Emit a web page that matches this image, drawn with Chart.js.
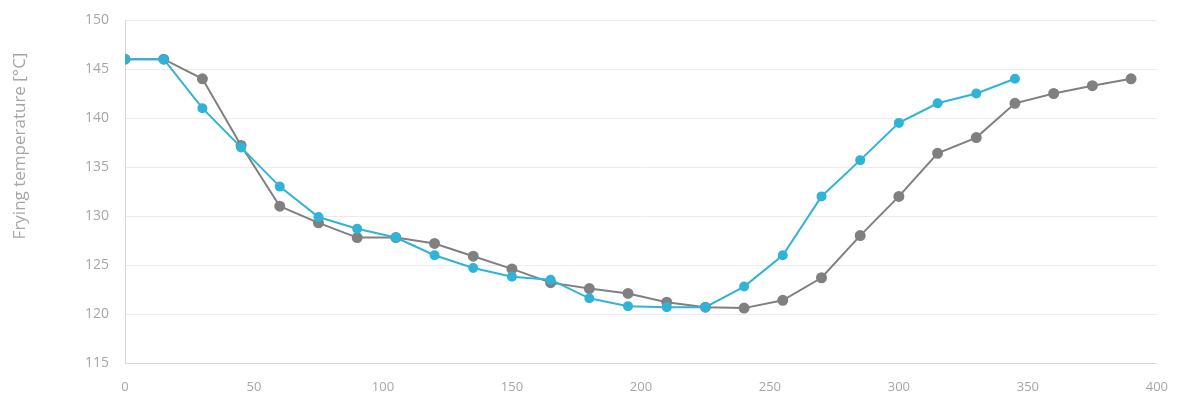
<!DOCTYPE html>
<html>
<head>
<meta charset="utf-8">
<script src="https://cdn.jsdelivr.net/npm/chart.js@4"></script>
<style>
  html, body { margin: 0; padding: 0; background: #fff; }
  #wrap { width: 1184px; height: 400px; }
</style>
</head>
<body>
<div id="wrap"><canvas id="fryChart" width="1184" height="400"></canvas></div>
<script>
// frying time (x) and temperature readings
const timesBlue = [0, 15, 30, 45, 60, 75, 90, 105, 120, 135, 150, 165, 180, 195, 210, 225, 240, 255, 270, 285, 300, 315, 330, 345];
const tempBlue = [146, 146, 141, 137, 133, 129.9, 128.7, 127.8, 126, 124.7, 123.8, 123.5, 121.6, 120.8, 120.7, 120.7, 122.8, 126, 132, 135.7, 139.5, 141.5, 142.5, 144];

const timesGrey = [0, 15, 30, 45, 60, 75, 90, 105, 120, 135, 150, 165, 180, 195, 210, 225, 240, 255, 270, 285, 300, 315, 330, 345, 360, 375, 390];
const tempGrey = [146, 146, 144, 137.2, 131, 129.3, 127.8, 127.8, 127.2, 125.9, 124.6, 123.2, 122.6, 122.1, 121.2, 120.7, 120.6, 121.4, 123.7, 128, 132, 136.4, 138, 141.5, 142.5, 143.3, 144];

const yTicks = [115, 120, 125, 130, 135, 140, 145, 150];
const xTicks = [0, 50, 100, 150, 200, 250, 300, 350, 400];
const yTitle = 'Frying temperature [°C]';

function toPoints(xs, ys) {
    return xs.map((x, i) => ({ x: x, y: ys[i] }));
}

// the axis title sits higher than the middle of the axis, so draw it here
const yTitlePlugin = {
    id: 'yTitlePlugin',
    afterDraw(chart) {
        const c = chart.ctx;
        c.save();
        c.translate(20, 146);
        c.rotate(-Math.PI / 2);
        c.fillStyle = '#a6a6a6';
        c.font = '17px "Open Sans"';
        c.textAlign = 'center';
        c.textBaseline = 'middle';
        c.fillText(yTitle, 0, 0);
        c.restore();
    }
};

var ctx = document.getElementById('fryChart').getContext('2d');
var fryChart = new Chart(ctx, {
    type: 'line',
    data: {
        datasets: [{
            label: 'Blue',
            data: toPoints(timesBlue, tempBlue),
            borderColor: '#2fb4d8',
            backgroundColor: '#2fb4d8',
            borderWidth: 2,
            pointRadius: 4,
            pointHoverRadius: 4,
            tension: 0,
            order: 1
        }, {
            label: 'Grey',
            data: toPoints(timesGrey, tempGrey),
            borderColor: '#808080',
            backgroundColor: '#808080',
            borderWidth: 2,
            pointRadius: 4.5,
            pointHoverRadius: 4.5,
            tension: 0,
            order: 2
        }]
    },
    options: {
        responsive: false,
        animation: false,
        layout: { padding: { top: 20, right: 25, left: 0, bottom: 0 } },
        plugins: {
            legend: { display: false },
            tooltip: { enabled: false }
        },
        scales: {
            x: {
                type: 'linear',
                min: 0,
                max: 400,
                afterBuildTicks: function(scale) {
                    scale.ticks = xTicks.map(v => ({ value: v }));
                },
                afterFit: function(scale) { scale.height = 37; },
                grid: { display: false, drawTicks: false },
                border: { display: true, color: '#d9d9d9', width: 1 },
                ticks: {
                    color: '#a6a6a6',
                    padding: 16,
                    maxRotation: 0,
                    font: { family: 'Open Sans', size: 13 }
                }
            },
            y: {
                min: 115,
                max: 150,
                afterBuildTicks: function(scale) {
                    scale.ticks = yTicks.map(v => ({ value: v }));
                },
                afterFit: function(scale) {
                    scale.width = 125;
                    scale.paddingTop = 0;
                    scale.paddingBottom = 0;
                },
                grid: { color: '#ebebeb', drawTicks: false },
                border: { display: true, color: '#d9d9d9', width: 1 },
                ticks: {
                    color: '#a6a6a6',
                    padding: 16,
                    font: { family: 'Open Sans', size: 14 }
                }
            }
        }
    },
    plugins: [yTitlePlugin]
});
</script>
</body>
</html>
